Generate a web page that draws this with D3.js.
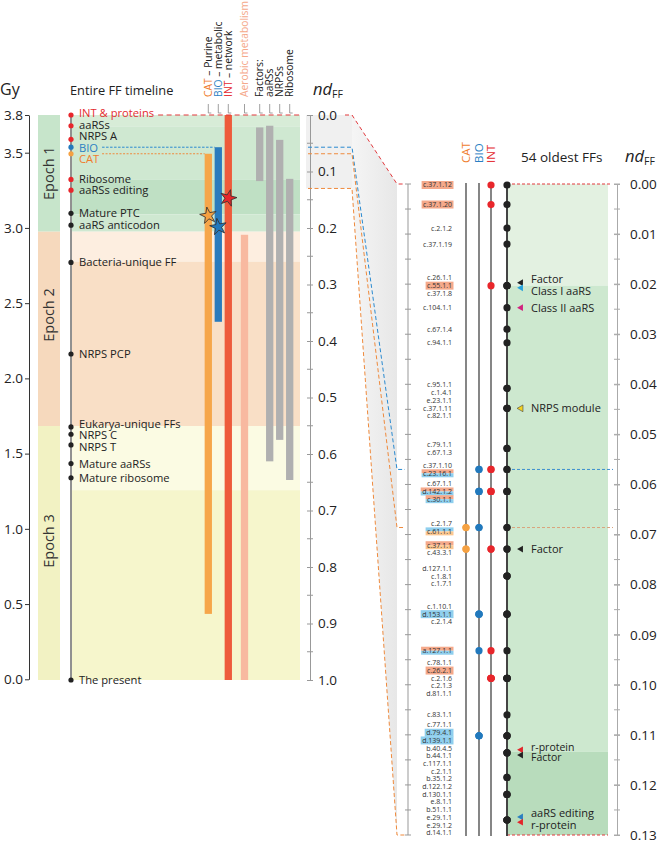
<!DOCTYPE html>
<html><head><meta charset="utf-8">
<script src="https://cdn.jsdelivr.net/npm/d3@7"></script>
<style>
body{margin:0;background:#fff;}
svg{font-family:"Open Sans",sans-serif;display:block;}
</style></head><body>
<svg id="c" width="660" height="847"></svg>
<script>
// ---------------- DATA ----------------
const gyTicks = [0, 0.5, 1.0, 1.5, 2.0, 2.5, 3.0, 3.5, 3.8];
const ndLeftTicks = [0, 0.1, 0.2, 0.3, 0.4, 0.5, 0.6, 0.7, 0.8, 0.9, 1.0];
const ndRightTicks = [0, 0.01, 0.02, 0.03, 0.04, 0.05, 0.06, 0.07, 0.08, 0.09, 0.10, 0.11, 0.12, 0.13];

const epochNames = ["Epoch 1", "Epoch 2", "Epoch 3"];
const epochStart = [0, 0.2065, 0.5505];
const epochEnd = [0.2065, 0.5505, 1.0];
const epochLabelNd = [0.103, 0.354, 0.754];

const bandStart = [0, 0.02, 0.114, 0.176, 0.2065, 0.2596, 0.5505, 0.664];
const bandEnd = [0.02, 0.114, 0.176, 0.2065, 0.2596, 0.5505, 0.664, 1.0];
const rightBandStart = [0, 0.0203, 0.1134];
const rightBandEnd = [0.0203, 0.1134, 0.13];

const eventNames = ["INT & proteins", "aaRSs", "NRPS A", "BIO", "CAT", "Ribosome", "aaRSs editing",
  "Mature PTC", "aaRS anticodon", "Bacteria-unique FF", "NRPS PCP", "Eukarya-unique FFs",
  "NRPS C", "NRPS T", "Mature aaRSs", "Mature ribosome", "The present"];
const eventNd = [0, 0.019, 0.043, 0.057, 0.0686, 0.114, 0.133, 0.174, 0.195, 0.261, 0.423,
  0.552, 0.565, 0.584, 0.617, 0.642, 1.0];
const eventDotSet = ["INT", "INT", "INT", "BIO", "CAT", "INT", "INT", "", "", "", "", "", "", "", "", "", ""];
const eventTextSet = ["INT", "", "", "BIO", "CAT", "", "", "", "", "", "", "", "", "", "", "", ""];

const barNames = ["CAT", "BIO", "INT", "Aerobic metabolism", "Factors", "aaRSs", "NRPSs", "Ribosome"];
const barStart = [0.0686, 0.057, 0, 0.212, 0.022, 0.019, 0.044, 0.113];
const barEnd = [0.883, 0.366, 1.0, 1.0, 0.117, 0.613, 0.575, 0.646];
const headerLead = ["CAT", "BIO", "INT", "Aerobic metabolism", "Factors:", "aaRSs", "NRPSs", "Ribosome"];
const headerTail = [" – Purine", " – metabolic", " – network", "", "", "", "", ""];

const starSets = ["CAT", "BIO", "INT"];
const starNd = [0.178, 0.198, 0.147];

const ffNames = ["c.37.1.12", "c.37.1.20", "c.2.1.2", "c.37.1.19", "c.26.1.1", "c.55.1.1", "c.37.1.8",
  "c.104.1.1", "c.67.1.4", "c.94.1.1", "c.95.1.1", "c.1.4.1", "e.23.1.1", "c.37.1.11", "c.82.1.1",
  "c.79.1.1", "c.67.1.3", "c.37.1.10", "c.23.16.1", "c.67.1.1", "d.142.1.2", "c.30.1.1", "c.2.1.7",
  "c.61.1.1", "c.37.1.1", "c.43.3.1", "d.127.1.1", "c.1.8.1", "c.1.7.1", "c.1.10.1", "d.153.1.1",
  "c.2.1.4", "a.127.1.1", "c.78.1.1", "c.26.2.1", "c.2.1.6", "c.2.1.3", "d.81.1.1", "c.83.1.1",
  "c.77.1.1", "d.79.4.1", "d.139.1.1", "b.40.4.5", "b.44.1.1", "c.117.1.1", "c.2.1.1", "b.35.1.2",
  "d.122.1.2", "d.130.1.1", "e.8.1.1", "b.51.1.1", "e.29.1.1", "e.29.1.2", "d.14.1.1"];
const ffNd = [0.0002, 0.0041, 0.0088, 0.0120, 0.0203, 0.0203, 0.0203,
  0.0247, 0.0290, 0.0317, 0.0408, 0.0408, 0.0448, 0.0448, 0.0448,
  0.0528, 0.0528, 0.0570, 0.0570, 0.0614, 0.0614, 0.0614, 0.0686,
  0.0686, 0.0729, 0.0729, 0.0783, 0.0783, 0.0783, 0.0859, 0.0859,
  0.0859, 0.0932, 0.0987, 0.0987, 0.0987, 0.0987, 0.0987, 0.1060,
  0.1102, 0.1102, 0.1102, 0.1136, 0.1136, 0.1136, 0.1185, 0.1185,
  0.1219, 0.1219, 0.1219, 0.1270, 0.1270, 0.1270, 0.1270];
// sets each FF group belongs to (dots)
const ffSets = ["INT", "INT", "", "", "", "INT", "",
  "", "", "", "", "", "", "", "",
  "", "", "INT BIO", "INT BIO", "INT BIO", "INT BIO", "INT BIO", "BIO CAT",
  "BIO CAT", "INT CAT", "INT CAT", "", "", "", "BIO", "BIO",
  "BIO", "INT BIO", "INT", "INT", "INT", "INT", "INT", "",
  "BIO", "BIO", "BIO", "", "", "", "", "",
  "", "", "", "", "", "", ""];
// highlighted label boxes
const ffHighlight = ["INT", "INT", "", "", "", "INT", "",
  "", "", "", "", "", "", "", "",
  "", "", "", "INT BIO", "", "INT BIO", "INT BIO", "",
  "BIO CAT", "INT CAT", "", "", "", "", "", "BIO",
  "", "INT BIO", "", "INT", "", "", "", "",
  "", "BIO", "BIO", "", "", "", "", "",
  "", "", "", "", "", "", ""];

const annoNames = ["Factor", "Class I aaRS", "Class II aaRS", "NRPS module", "Factor", "r-protein", "Factor", "aaRS editing", "r-protein"];
const annoNd = [0.0203, 0.0203, 0.0247, 0.0448, 0.0729, 0.1136, 0.1136, 0.1270, 0.1270];
const annoKind = ["factor", "classI", "classII", "nrps", "factor", "rprot", "factor", "edit", "rprot"];

// ---------------- STYLE ----------------
const setColor = {CAT: "#f5a142", BIO: "#2179bd", INT: "#e8262b"};
const textColor = {CAT: "#ef7d2d", BIO: "#2a7fc3", INT: "#e42b2f"};
const barColor = ["#f6a64a", "#2a7bbd", "#ee5b3b", "#f8b9a0", "#b0b0b0", "#b0b0b0", "#b0b0b0", "#b0b0b0"];
const epochColor = ["#c7e5cb", "#f6d9bd", "#f2f2c3"];
const bandColor = ["#d7ecd7", "#cfe8d1", "#bfe0c4", "#cfe8d1", "#fdeee0", "#f9dfc6", "#fbfbe3", "#f6f6cc"];
const rightBandColor = ["#e3f1e1", "#cde8cf", "#b8dcbc"];
const hlColor = {INT: "#f5a98b", BIO: "#8fcfee", CAT: "#fcc791"};
const annoColor = {factor: "#222", classI: "#27a3dc", classII: "#d2237f", nrps: "#f4d21f", rprot: "#e2262b", edit: "#2a7fc0"};

// ---------------- SCALES ----------------
const ndL = d3.scaleLinear().domain([0, 1]).range([115, 680]);
const gyS = d3.scaleLinear().domain([0, 3.5, 3.8]).range([679.3, 152.7, 115]);
const ndR = d3.scaleLinear().domain([0, 0.13]).range([184, 835]);
const barX = d3.scaleOrdinal().domain(barNames).range([208.3, 218.3, 228.3, 244.5, 259.7, 269.7, 279.7, 289.7]);
const setX = d3.scaleOrdinal().domain(["CAT", "BIO", "INT"]).range([466, 479, 491]);
const barW = 7.3;
const panelL = {x0: 72, x1: 300};
const lineX = 71;
const blackX = 507;
const rightBgX1 = 608;

const svg = d3.select("#c");
const defs = svg.append("defs");
const grad = defs.append("linearGradient").attr("id", "trap").attr("x1", "0").attr("x2", "1").attr("y1", "0").attr("y2", "0");
grad.append("stop").attr("offset", "0").attr("stop-color", "#f5f5f5");
grad.append("stop").attr("offset", "1").attr("stop-color", "#e7e7e7");

// ordered non-overlapping label placement nearest the targets (pool adjacent violators)
function dodge(targets, s) {
  const blocks = [];
  targets.forEach((t, i) => {
    blocks.push({sum: t - i * s, n: 1, start: i});
    while (blocks.length > 1) {
      const b = blocks[blocks.length - 1], a = blocks[blocks.length - 2];
      if (a.sum / a.n > b.sum / b.n) { a.sum += b.sum; a.n += b.n; blocks.pop(); } else break;
    }
  });
  const out = [];
  blocks.forEach((b) => { for (let k = 0; k < b.n; k++) { const i = b.start + k; out[i] = b.sum / b.n + i * s; } });
  return out;
}

// connector shading
svg.append("rect").attr("x", 306).attr("y", ndL(0)).attr("width", 46).attr("height", ndL(0.13) - ndL(0)).attr("fill", "#f0f0f0");
svg.append("path").attr("d", `M352,${ndL(0)}L397,${ndR(0)}L397,${ndR(0.13)}L352,${ndL(0.13)}Z`).attr("fill", "url(#trap)");

// left background bands
svg.append("g").selectAll("rect").data(bandStart).join("rect")
  .attr("x", panelL.x0).attr("width", panelL.x1 - panelL.x0)
  .attr("y", (d) => ndL(d)).attr("height", (d, i) => ndL(bandEnd[i]) - ndL(d))
  .attr("fill", (d, i) => bandColor[i]);

// epoch column
svg.append("g").selectAll("rect").data(epochStart).join("rect")
  .attr("x", 38).attr("width", 22)
  .attr("y", (d) => ndL(d)).attr("height", (d, i) => ndL(epochEnd[i]) - ndL(d))
  .attr("fill", (d, i) => epochColor[i]);
svg.append("g").selectAll("text").data(epochNames).join("text")
  .attr("transform", (d, i) => `translate(49,${ndL(epochLabelNd[i])}) rotate(-90)`)
  .attr("text-anchor", "middle").attr("dy", "0.35em")
  .attr("font-size", 14.5).attr("fill", "#333").text((d) => d);

// bars
svg.append("g").selectAll("rect").data(barNames).join("rect")
  .attr("x", (d) => barX(d) - barW / 2).attr("width", barW)
  .attr("y", (d, i) => ndL(barStart[i])).attr("height", (d, i) => ndL(barEnd[i]) - ndL(barStart[i]))
  .attr("fill", (d, i) => barColor[i]);

// header ticks and labels
svg.append("g").selectAll("path").data(barNames).join("path")
  .attr("d", (d) => `M${barX(d)},104V113h3`).attr("fill", "none").attr("stroke", "#888").attr("stroke-width", 0.8);
const hdr = svg.append("g").selectAll("text").data(barNames).join("text")
  .attr("transform", (d) => `translate(${barX(d)},97) rotate(-90)`)
  .attr("dy", "0.36em").attr("font-size", 10.3);
hdr.append("tspan").text((d, i) => headerLead[i])
  .attr("fill", (d, i) => i < 3 ? textColor[d] : (i === 3 ? "#f5a98b" : "#222"));
hdr.append("tspan").text((d, i) => headerTail[i]).attr("fill", "#222");

// timeline
svg.append("line").attr("x1", lineX).attr("x2", lineX).attr("y1", ndL(0)).attr("y2", ndL(1)).attr("stroke", "#222").attr("stroke-width", 1);
const evLabelY = dodge(eventNd.map((d) => ndL(d)), 11.5);
const evText = svg.append("g").selectAll("text").data(eventNames).join("text")
  .attr("x", 79).attr("y", (d, i) => evLabelY[i]).attr("dy", "0.35em")
  .attr("font-size", 11.2).attr("fill", (d, i) => eventTextSet[i] ? textColor[eventTextSet[i]] : "#222")
  .text((d) => d);
svg.append("g").selectAll("circle").data(eventNames).join("circle")
  .attr("cx", lineX).attr("cy", (d, i) => ndL(eventNd[i])).attr("r", 2.6)
  .attr("fill", (d, i) => eventDotSet[i] ? setColor[eventDotSet[i]] : "#222");

// dashed guides on the left
const endOf = (name) => { const n = evText.filter((d) => d === name).node(); return 79 + n.getComputedTextLength() + 4; };
svg.append("line").attr("x1", endOf("INT & proteins")).attr("x2", 300).attr("y1", ndL(0)).attr("y2", ndL(0))
  .attr("stroke", "#e2383c").attr("stroke-dasharray", "5,3.5").attr("stroke-width", 1);
svg.append("line").attr("x1", endOf("BIO")).attr("x2", barX("BIO") - barW / 2).attr("y1", ndL(0.057)).attr("y2", ndL(0.057))
  .attr("stroke", "#2a8ad0").attr("stroke-dasharray", "2.5,1.5").attr("stroke-width", 1);
svg.append("line").attr("x1", endOf("BIO")).attr("x2", barX("CAT") - barW / 2).attr("y1", ndL(0.0686)).attr("y2", ndL(0.0686))
  .attr("stroke", "#ef8a3c").attr("stroke-dasharray", "2,1.5").attr("stroke-width", 1);

// stars
svg.append("g").selectAll("path").data(starSets).join("path")
  .attr("d", d3.symbol(d3.symbolStar).size(85))
  .attr("transform", (d, i) => `translate(${barX(d)},${ndL(starNd[i])}) rotate(${i === 2 ? 15 : -10})`)
  .attr("fill", (d) => setColor[d]).attr("stroke", "#333").attr("stroke-width", 0.8);

// Gy axis
const gyAxis = svg.append("g").attr("transform", "translate(29,0)")
  .call(d3.axisLeft(gyS).tickValues(gyTicks).tickSizeInner(4).tickSizeOuter(0).tickFormat(d3.format(".1f")));
gyAxis.selectAll("text").attr("font-size", 13.5).attr("font-family", "Open Sans").attr("fill", "#222").attr("x", -6);
gyAxis.selectAll("path,line").attr("stroke", "#333");

// left nd axis
const ndAxisL = svg.append("g").attr("transform", "translate(310,0)")
  .call(d3.axisRight(ndL).tickValues(ndLeftTicks).tickSizeOuter(0).tickFormat(d3.format(".1f")));
ndAxisL.selectAll("text").attr("font-size", 13.5).attr("font-family", "Open Sans").attr("fill", "#222").attr("x", 8);
ndAxisL.selectAll(".tick line").attr("x1", -3).attr("x2", 3);
ndAxisL.selectAll("path,line").attr("stroke", "#999");
svg.append("g").selectAll("line").data(ndLeftTicks.slice(0, -1)).join("line")
  .attr("x1", 307).attr("x2", 313)
  .attr("y1", (d, i) => ndL((d + ndLeftTicks[i + 1]) / 2)).attr("y2", (d, i) => ndL((d + ndLeftTicks[i + 1]) / 2))
  .attr("stroke", "#999");

// titles
svg.append("text").attr("x", 0).attr("y", 95).attr("font-size", 16).attr("fill", "#222").text("Gy");
svg.append("text").attr("x", 70).attr("y", 95).attr("font-size", 12.8).attr("fill", "#222").text("Entire FF timeline");
const ndTitle = (x, y) => {
  const t = svg.append("text").attr("x", x).attr("y", y).attr("font-size", 16.5).attr("fill", "#222");
  t.append("tspan").attr("font-style", "italic").text("nd");
  t.append("tspan").attr("font-size", 10.5).attr("dy", 3).text("FF");
};
ndTitle(313, 95);
ndTitle(625, 162);

// connector dashed lines
const conn = (ndl, ndr, color, dash, x0) => {
  svg.append("path").attr("d", `M${x0},${ndL(ndl)}H352L397,${ndR(ndr)}H405`)
    .attr("fill", "none").attr("stroke", color).attr("stroke-dasharray", dash).attr("stroke-width", 1);
};
conn(0, 0, "#e2383c", "4,3", 345);
conn(0.057, 0.057, "#2a8ad0", "4,2.5", 308);
conn(0.0686, 0.0686, "#ef8a3c", "4,2.5", 308);
conn(0.13, 0.13, "#ef8a3c", "4,2.5", 308);

// ---------------- RIGHT PANEL ----------------
svg.append("g").selectAll("rect").data(rightBandStart).join("rect")
  .attr("x", blackX).attr("width", rightBgX1 - blackX)
  .attr("y", (d) => ndR(d)).attr("height", (d, i) => ndR(rightBandEnd[i]) - ndR(d))
  .attr("fill", (d, i) => rightBandColor[i]);

svg.append("line").attr("x1", blackX).attr("x2", 610).attr("y1", ndR(0)).attr("y2", ndR(0)).attr("stroke", "#e2383c").attr("stroke-dasharray", "3,2");
svg.append("line").attr("x1", blackX).attr("x2", 608).attr("y1", ndR(0.13)).attr("y2", ndR(0.13)).attr("stroke", "#e2383c").attr("stroke-dasharray", "3,2");
svg.append("line").attr("x1", blackX).attr("x2", 613).attr("y1", ndR(0.057)).attr("y2", ndR(0.057)).attr("stroke", "#3c8fd0").attr("stroke-dasharray", "3,2");
svg.append("line").attr("x1", blackX).attr("x2", 613).attr("y1", ndR(0.0686)).attr("y2", ndR(0.0686)).attr("stroke", "#d9a47c").attr("stroke-dasharray", "3,2");

svg.append("g").selectAll("line").data(["CAT", "BIO", "INT"]).join("line")
  .attr("x1", (d) => setX(d)).attr("x2", (d) => setX(d)).attr("y1", ndR(0) - 1).attr("y2", 836)
  .attr("stroke", "#222").attr("stroke-width", 1.1);
svg.append("line").attr("x1", blackX).attr("x2", blackX).attr("y1", ndR(0) - 1).attr("y2", 836)
  .attr("stroke", "#444").attr("stroke-width", 2);

svg.append("g").selectAll("text").data(["CAT", "BIO", "INT"]).join("text")
  .attr("transform", (d) => `translate(${setX(d)},163) rotate(-90)`).attr("dy", "0.36em")
  .attr("font-size", 11.5).attr("fill", (d) => textColor[d]).text((d) => d);
svg.append("text").attr("x", 521).attr("y", 162).attr("font-size", 13.5).attr("fill", "#222").text("54 oldest FFs");

const minorR = d3.range(0, 27).map((i) => i * 0.005);
svg.append("line").attr("x1", 408).attr("x2", 408).attr("y1", ndR(0)).attr("y2", ndR(0.13)).attr("stroke", "#999");
svg.append("g").selectAll("line").data(minorR).join("line")
  .attr("x1", 405).attr("x2", 411).attr("y1", (d) => ndR(d)).attr("y2", (d) => ndR(d)).attr("stroke", "#999");

const ndAxisR = svg.append("g").attr("transform", "translate(617,0)")
  .call(d3.axisRight(ndR).tickValues(ndRightTicks).tickSizeOuter(0).tickFormat(d3.format(".2f")));
ndAxisR.selectAll("text").attr("font-size", 13.5).attr("font-family", "Open Sans").attr("fill", "#222").attr("x", 13);
ndAxisR.selectAll(".tick line").attr("x1", -3).attr("x2", 3);
ndAxisR.selectAll("path,line").attr("stroke", "#aaa");
svg.append("g").selectAll("line").data(minorR).join("line")
  .attr("x1", 614).attr("x2", 620).attr("y1", (d) => ndR(d)).attr("y2", (d) => ndR(d)).attr("stroke", "#aaa");

// FF labels
const labelY = dodge(ffNd.map((d) => ndR(d)), 7.7);
const labelRight = 452;
const ffG = svg.append("g");
const ffTexts = ffG.selectAll("text").data(ffNames).join("text")
  .attr("x", labelRight).attr("y", (d, i) => labelY[i]).attr("dy", "0.35em")
  .attr("text-anchor", "end").attr("font-size", 7).attr("fill", "#333").text((d) => d);
ffTexts.each(function (d, i) {
  if (!ffHighlight[i]) return;
  const sets = ffHighlight[i].split(" ");
  const w = this.getComputedTextLength() + 3;
  const h = 8;
  const y0 = labelY[i] - h / 2;
  sets.forEach((s, k) => {
    ffG.insert("rect", "text").attr("x", labelRight - w + 1.5).attr("width", w)
      .attr("y", y0 + k * h / sets.length).attr("height", h / sets.length).attr("fill", hlColor[s]);
  });
});

// dots
svg.append("g").selectAll("circle").data(ffNames).join("circle")
  .attr("cx", blackX).attr("cy", (d, i) => ndR(ffNd[i])).attr("r", 3.6).attr("fill", "#222");
const setDots = [];
ffNames.forEach((n, i) => { if (ffSets[i]) ffSets[i].split(" ").forEach((s) => setDots.push({s, nd: ffNd[i]})); });
svg.append("g").selectAll("circle").data(setDots).join("circle")
  .attr("cx", (d) => setX(d.s)).attr("cy", (d) => ndR(d.nd)).attr("r", 3.6).attr("fill", (d) => setColor[d.s]);

// annotations
const annoG = svg.append("g");
annoNames.forEach((name, i) => {
  const same = annoNd.map((v, j) => j).filter((j) => annoNd[j] === annoNd[i]);
  const k = same.indexOf(i);
  const pair = same.length > 1;
  const tight = pair && annoKind[same[0]] === "rprot";
  const ty = ndR(annoNd[i]) + (pair ? (k === 0 ? (tight ? -5.5 : -6.5) : (tight ? 4 : 5)) : 0);
  const my = ndR(annoNd[i]) + (pair ? (k === 0 ? -3 : 2.2) : 0);
  annoG.append("path").attr("d", d3.symbol(d3.symbolTriangle).size(20))
    .attr("transform", `translate(521,${my}) rotate(-90)`)
    .attr("fill", annoColor[annoKind[i]])
    .attr("stroke", annoKind[i] === "nrps" ? "#444" : "none").attr("stroke-width", 0.6);
  annoG.append("text").attr("x", 531).attr("y", ty).attr("dy", "0.35em")
    .attr("font-size", tight ? 10.5 : 11)
    .attr("fill", "#222").text(name);
});
</script>
</body></html>
